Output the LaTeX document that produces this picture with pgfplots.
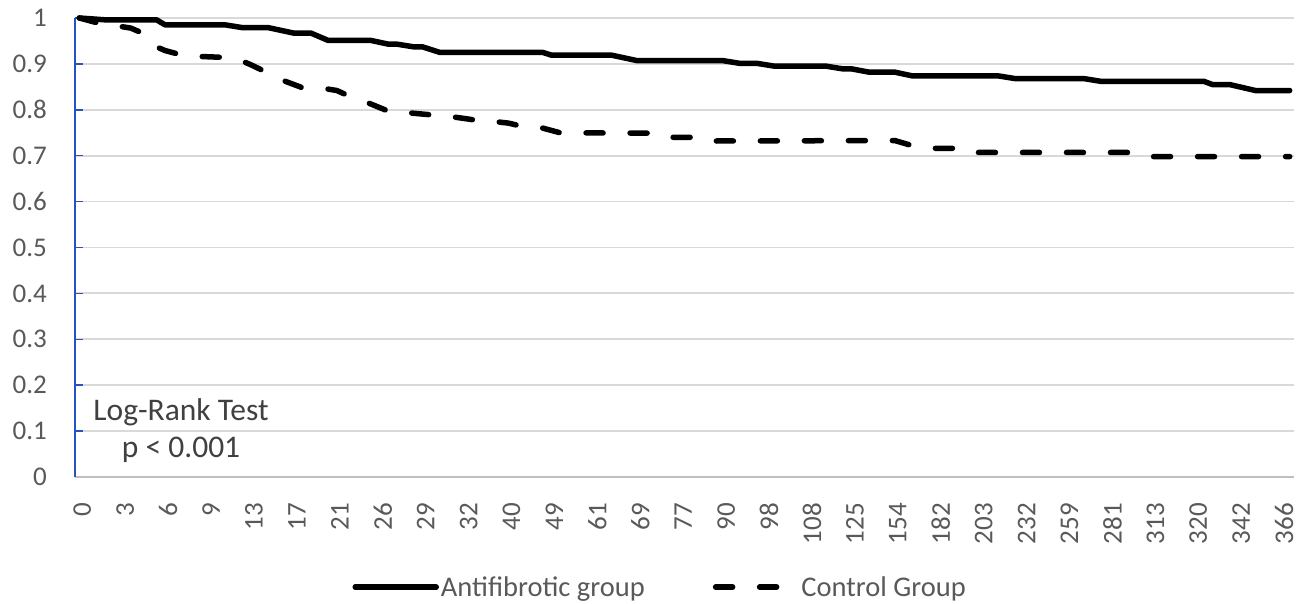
\documentclass[border=0pt]{standalone}
\usepackage{pgfplots}
\pgfplotsset{compat=1.18}
\usepackage{fontspec}
\setmainfont{Carlito}
\definecolor{tickgray}{HTML}{595959}
\definecolor{notegray}{HTML}{404040}
\definecolor{gridgray}{HTML}{D9D9D9}
\definecolor{axgray}{HTML}{BFBFBF}
\definecolor{axblue}{HTML}{2952C0}

\pgfplotstableread{
x y
0 1.000
3 0.996
9 0.996
10 0.985
17 0.985
19 0.979
22 0.979
25 0.967
27 0.967
29 0.951
34 0.951
36 0.943
37 0.943
39 0.937
40 0.937
42 0.925
54 0.925
55 0.919
62 0.919
65 0.907
75 0.907
77 0.901
79 0.901
81 0.895
87 0.895
89 0.889
90 0.889
92 0.882
95 0.882
97 0.874
107 0.874
109 0.868
117 0.868
119 0.862
131 0.862
132 0.855
134 0.855
137 0.842
141 0.842
}\antifib

\pgfplotstableread{
x y
0 1.000
2 0.990
5 0.981
6 0.978
7 0.970
8 0.950
9 0.937
10 0.929
12 0.919
13 0.917
17 0.914
18 0.912
19 0.906
20 0.898
22 0.880
23 0.870
24 0.862
26 0.848
27 0.847
29 0.845
30 0.842
32 0.825
33 0.820
36 0.797
38 0.794
41 0.789
43 0.786
46 0.778
48 0.775
50 0.771
52 0.762
54 0.760
56 0.750
67 0.749
68 0.740
73 0.740
74 0.732
95 0.733
97 0.722
99 0.716
103 0.716
104 0.707
124 0.707
125 0.698
141 0.698
}\control

\begin{document}
\begin{tikzpicture}
\path[use as bounding box] (0,0) rectangle (1311pt,604pt);
\begin{axis}[
  at={(75pt,127pt)}, anchor=south west,
  scale only axis,
  width=1219pt, height=459pt,
  xmin=-0.5, xmax=141.5,
  ymin=0, ymax=1,
  clip=false,
  axis x line*=bottom, axis y line*=left,
  x axis line style={-, draw=axgray, line width=2pt},
  y axis line style={-, draw=axblue, line width=1.5pt},
  xtick={0,5,...,140},
  xticklabels={0,3,6,9,13,17,21,26,29,32,40,49,61,69,77,90,98,108,125,154,182,203,232,259,281,313,320,342,366},
  ytick={0,0.1,0.2,0.3,0.4,0.5,0.6,0.7,0.8,0.9,1},
  yticklabels={0,0.1,0.2,0.3,0.4,0.5,0.6,0.7,0.8,0.9,1},
  xtick style={draw=none},
  ytick style={draw=axblue, line width=1.5pt},
  tick align=inside,
  major tick length=8pt,
  ymajorgrids,
  grid style={draw=gridgray, line width=1.8pt},
  xticklabel style={xshift=3pt, rotate=90, anchor=east, inner xsep=26pt, inner ysep=0pt, font=\fontsize{27pt}{30pt}\selectfont, text=tickgray},
  yticklabel style={anchor=east, inner xsep=28pt, inner ysep=0pt, font=\fontsize{27pt}{30pt}\selectfont, text=tickgray},
  legend style={draw=none, fill=none, legend columns=2, at={(0.48,-0.24)}, anchor=center,
    font=\fontsize{28.5pt}{30pt}\selectfont, text=tickgray,
    /tikz/every even column/.append style={column sep=66pt}},
  legend image code/.code={\draw[#1] (0pt,0pt) -- (81pt,0pt);},
]
\addplot[black, line width=5.5pt, line cap=round, line join=round] table[x=x, y=y] {\antifib};
\addlegendentry{Antifibrotic group}
\addplot[black, line width=5.5pt, line cap=round, line join=round, dash pattern=on 17pt off 27pt] table[x=x, y=y] {\control};
\addlegendentry{Control Group}
\node[align=center, font=\fontsize{31.5pt}{37pt}\selectfont, text=notegray] at (rel axis cs:0.087,0.1) {Log-Rank Test\\p < 0.001};
\end{axis}
\end{tikzpicture}
\end{document}
